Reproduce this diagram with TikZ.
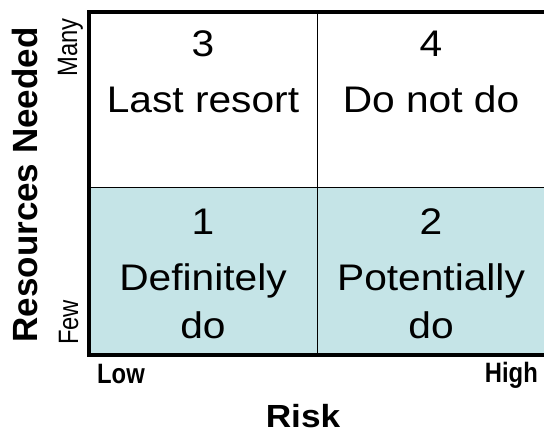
\documentclass[tikz,border=0pt]{standalone}
\usepackage{fontspec}
\setmainfont{Liberation Sans}[FakeStretch=1.1]
\newfontfamily\sidefont{Liberation Sans}
\newfontfamily\tickfont{Liberation Sans}[FakeStretch=0.85]
\usetikzlibrary{positioning}

\definecolor{lowRow}{RGB}{197,228,231}
\newcommand{\cellsize}{\fontsize{37bp}{48bp}\selectfont}

\tikzset{
  cellLabel/.style={anchor=base, inner sep=0pt, align=center, font=\cellsize},
  tickLabel/.style={inner sep=0pt, font=\tickfont\fontsize{28bp}{30bp}\selectfont},
}

\begin{document}
\begin{tikzpicture}[x=1bp,y=-1bp]
  % \draw[step=10,thin,gray!40] (0,0) grid (544,433);
  \useasboundingbox (0,0) rectangle (544,433);

  \coordinate (topLeft) at (89,12);
  \coordinate (bottomLeft) at (89,355);
  \coordinate (topRight) at (546,12);
  \coordinate (bottomRight) at (546,355);
  \coordinate (midTop) at (317,12);
  \coordinate (midBottom) at (317,355);
  \coordinate (midLeft) at (89,187);
  \coordinate (midRight) at (546,187);

  \fill[lowRow] (midLeft) rectangle (bottomRight);
  \draw[thin] (midTop) -- (midBottom);
  \draw[thin] (midLeft) -- (midRight);
  \draw[line width=4bp] (topRight) -- (topLeft) -- (bottomLeft) -- (bottomRight);

  % base of a two line label is its last line
  \node[cellLabel] (numThree) at (203,57) {3};
  \node[cellLabel] (textThree) at (203,113) {Last resort};
  \node[cellLabel] (numFour) at (431,57) {4};
  \node[cellLabel] (textFour) at (431,113) {Do not do};
  \node[cellLabel] (numOne) at (203,235) {1};
  \node[cellLabel] (textOne) at (203,338) {Definitely\\do};
  \node[cellLabel] (numTwo) at (431,235) {2};
  \node[cellLabel] (textTwo) at (431,338) {Potentially\\do};

  \node[tickLabel, anchor=base west] (lowTick) at (97,383) {\bfseries Low};
  \node[tickLabel, anchor=base east] (highTick) at (538,382) {\bfseries High};
  \node[anchor=base, inner sep=0pt, font=\bfseries\fontsize{32bp}{34bp}\selectfont] (riskLabel) at (303,427) {Risk};

  \node[rotate=90, anchor=base, inner sep=0pt, font=\sidefont\bfseries\fontsize{35bp}{38bp}\selectfont] (resLabel) at (37,185) {Resources Needed};
  \node[tickLabel, rotate=90, anchor=base west] (fewTick) at (78,345) {Few};
  \node[tickLabel, rotate=90, anchor=base east] (manyTick) at (77,18) {Many};
\end{tikzpicture}
\end{document}
